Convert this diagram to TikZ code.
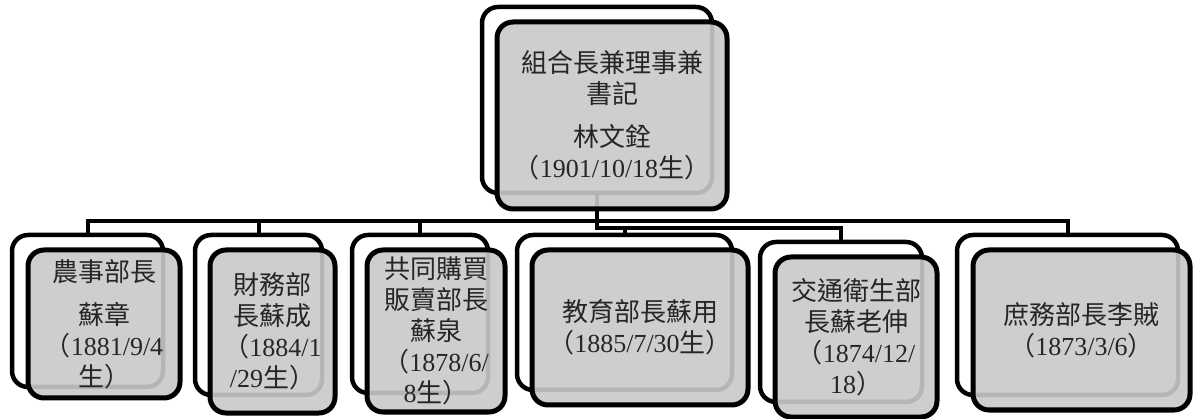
\documentclass[tikz,border=0pt]{standalone}
\usepackage{fontspec}
\setmainfont{Noto Sans CJK TC}
\newfontfamily\num{Liberation Serif}
\begin{document}
\begin{tikzpicture}[x=1pt, y=-1pt,
    backbox/.style={draw, line width=4.5pt, rounded corners=16pt, fill=white, inner sep=0pt, outer sep=0pt, anchor=north west},
    frontbox/.style={draw, line width=5pt, rounded corners=16pt, fill=black!21, fill opacity=0.9, text opacity=1,
      inner sep=0pt, outer sep=0pt, anchor=north west, align=center, text=black!85, font=\fontsize{26}{31}\selectfont},
    link/.style={line width=4pt}]
	\useasboundingbox[fill=white] (0,0) rectangle (1194,419);
	
	% 后框
	\node[backbox, minimum width=230pt, minimum height=186pt] (headB) at (482,7) {};
	\node[backbox, minimum width=151pt, minimum height=152pt] (nongB) at (12,235) {};
	\node[backbox, minimum width=127pt, minimum height=160pt] (caiB) at (195,235) {};
	\node[backbox, minimum width=136pt, minimum height=158pt] (gouB) at (352,235) {};
	\node[backbox, minimum width=215pt, minimum height=155pt] (jiaoyuB) at (517,235) {};
	\node[backbox, minimum width=162pt, minimum height=160pt] (jiaotongB) at (760,242) {};
	\node[backbox, minimum width=221pt, minimum height=160pt] (shuB) at (957,235) {};
	
	% 连线
	\coordinate (bar) at (0,221);
	\coordinate (bar2) at (0,228);
	\draw[link] (nongB.north) -- (nongB.north |- bar) -- (shuB.north |- bar) -- (shuB.north);
	\foreach \n in {caiB, gouB}
		\draw[link] (\n.north) -- (\n.north |- bar);
	\draw[link] (headB.south) -- (headB.south |- bar2) -- (jiaotongB.north |- bar2) -- (jiaotongB.north);
	\draw[link] (jiaoyuB.north) -- (jiaoyuB.north |- bar2);
	
	% 前框
	\node[frontbox, minimum width=230pt, minimum height=187pt] (head) at (497,22)
		{組合長兼理事兼\\書記\\[12pt]林文銓\\（{\num 1901/10/18}生）};
	\node[frontbox, minimum width=152pt, minimum height=148pt] (nong) at (28,250)
		{農事部長\\[12pt]蘇章\\（{\num 1881/9/4}\\生）};
	\node[frontbox, minimum width=125pt, minimum height=163pt] (cai) at (210,250)
		{財務部\\長蘇成\\（{\num 1884/1}\\{\num /29}生）};
	\node[frontbox, minimum width=138pt, minimum height=162pt] (gou) at (367,250)
		{共同購買\\販賣部長\\蘇泉\\（{\num 1878/6/}\\{\num 8}生）};
	\node[frontbox, minimum width=216pt, minimum height=155pt] (jiaoyu) at (532,250)
		{教育部長蘇用\\（{\num 1885/7/30}生）};
	\node[frontbox, minimum width=162pt, minimum height=160pt] (jiaotong) at (775,257)
		{交通衛生部\\長蘇老伸\\（{\num 1874/12/}\\{\num 18}）};
	\node[frontbox, minimum width=217pt, minimum height=160pt] (shu) at (973,250)
		{庶務部長李賊\\（{\num 1873/3/6}）};
\end{tikzpicture}
\end{document}
